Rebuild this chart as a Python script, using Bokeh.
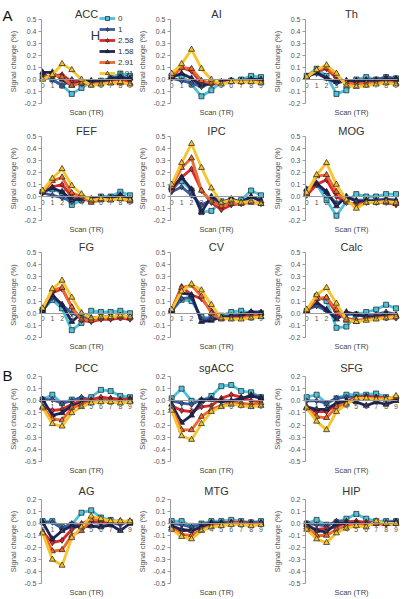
from bokeh.plotting import figure
from bokeh.layouts import column, row
from bokeh.models import FixedTicker, NumeralTickFormatter, Label, Legend, LegendItem
from bokeh.embed import file_html
from bokeh.resources import INLINE

FONT = "Liberation Sans"

scan = list(range(10))
series_labels = ["0", "1", "2.58", "1.58", "2.91", "4.91"]
series_colors = ["#4FC2DA", "#3B5CA5", "#D9292B", "#1E2659", "#F0682B", "#F7C42C"]
series_markers = ["square", "diamond", "diamond", "triangle", "triangle", "triangle"]
series_sizes = [5, 6, 6, 6, 6, 6]

yticks_A = [-0.2, -0.1, 0.0, 0.1, 0.2, 0.3, 0.4, 0.5]
yticks_B = [-0.5, -0.4, -0.3, -0.2, -0.1, 0.0, 0.1, 0.2]

# rows: H = 0, 1, 2.58, 1.58, 2.91, 4.91
ACC = [[0.02, 0.00, -0.05, -0.12, -0.07, -0.02, -0.01, 0.01, 0.05, 0.03],
       [0.05, 0.00, -0.05, 0.00, -0.03, -0.02, -0.02, 0.00, 0.02, 0.00],
       [0.02, 0.03, 0.04, -0.02, -0.02, -0.03, -0.02, -0.02, -0.01, -0.01],
       [0.06, 0.06, 0.00, -0.05, -0.02, -0.01, -0.02, 0.01, 0.02, 0.01],
       [0.01, 0.04, 0.02, -0.05, -0.03, -0.04, -0.03, -0.03, -0.03, -0.03],
       [0.00, 0.04, 0.13, 0.08, 0.00, -0.05, -0.04, -0.03, -0.02, -0.04]]
AI = [[0.03, 0.03, -0.04, -0.14, -0.09, -0.02, -0.01, 0.00, 0.03, 0.02],
      [0.01, -0.01, -0.03, -0.06, -0.03, -0.02, -0.01, -0.01, 0.00, -0.01],
      [0.02, 0.10, 0.07, -0.03, -0.04, -0.02, -0.01, -0.02, -0.01, -0.02],
      [0.02, 0.05, 0.01, -0.05, -0.03, -0.02, -0.01, -0.01, 0.00, 0.00],
      [0.03, 0.10, 0.09, -0.01, -0.03, -0.03, -0.02, -0.02, -0.02, -0.02],
      [0.05, 0.13, 0.25, 0.09, 0.00, -0.04, -0.02, -0.02, -0.02, -0.03]]
Th = [[0.03, 0.09, 0.03, -0.12, -0.09, 0.00, 0.02, 0.00, 0.02, 0.01],
      [0.03, 0.05, 0.01, -0.03, -0.01, -0.01, 0.00, 0.00, 0.02, 0.01],
      [0.02, 0.07, 0.09, 0.01, -0.02, -0.02, -0.02, -0.02, -0.01, -0.02],
      [0.02, 0.06, 0.01, -0.02, -0.01, -0.01, -0.01, -0.01, 0.00, 0.00],
      [0.02, 0.08, 0.10, 0.03, -0.03, -0.04, -0.03, -0.03, -0.02, -0.03],
      [0.02, 0.08, 0.12, 0.05, -0.05, -0.06, -0.05, -0.04, -0.03, -0.04]]
FEF = [[0.04, 0.06, 0.03, -0.07, -0.03, -0.03, 0.00, 0.00, 0.04, 0.01],
       [0.03, 0.01, -0.01, -0.04, -0.01, -0.02, -0.01, -0.01, 0.01, -0.02],
       [0.04, 0.08, 0.10, 0.00, -0.02, -0.03, -0.02, -0.02, -0.01, -0.03],
       [0.04, 0.07, 0.04, -0.03, -0.02, -0.02, -0.01, -0.01, 0.01, -0.02],
       [0.04, 0.13, 0.16, 0.03, 0.00, -0.05, -0.03, -0.03, -0.02, -0.04],
       [0.05, 0.15, 0.23, 0.09, 0.02, -0.03, -0.02, -0.03, -0.02, -0.03]]
IPC = [[0.06, 0.13, 0.05, -0.13, -0.12, -0.04, -0.03, -0.03, 0.05, 0.01],
       [0.04, 0.08, 0.01, -0.07, -0.03, -0.06, -0.05, -0.05, 0.00, -0.03],
       [0.05, 0.16, 0.23, 0.05, -0.05, -0.11, -0.07, -0.06, -0.04, -0.06],
       [0.07, 0.16, 0.06, -0.13, 0.00, -0.05, -0.02, -0.05, 0.00, -0.04],
       [0.08, 0.24, 0.32, 0.05, -0.04, -0.08, -0.06, -0.06, -0.05, -0.06],
       [0.10, 0.28, 0.44, 0.24, 0.07, -0.05, -0.03, -0.05, -0.04, -0.06]]
MOG = [[0.04, 0.10, -0.03, -0.16, -0.04, 0.02, 0.00, 0.00, 0.02, 0.02],
       [0.05, 0.10, 0.03, -0.06, -0.01, -0.03, -0.03, -0.03, -0.02, -0.03],
       [0.01, 0.10, 0.14, 0.00, -0.05, -0.07, -0.05, -0.05, -0.05, -0.07],
       [0.06, 0.11, 0.04, -0.08, 0.00, -0.04, -0.04, -0.04, -0.03, -0.04],
       [0.02, 0.17, 0.18, 0.04, -0.04, -0.08, -0.05, -0.05, -0.05, -0.06],
       [0.03, 0.18, 0.28, 0.10, -0.03, -0.10, -0.05, -0.05, -0.04, -0.05]]
FG = [[0.03, 0.11, 0.04, -0.14, -0.08, 0.02, 0.01, 0.01, 0.02, 0.00],
      [0.02, 0.13, 0.07, 0.00, -0.03, -0.05, -0.04, -0.03, -0.02, -0.03],
      [0.03, 0.17, 0.20, 0.05, -0.06, -0.07, -0.05, -0.05, -0.04, -0.05],
      [0.02, 0.15, 0.07, -0.07, 0.00, -0.04, -0.03, -0.03, -0.02, -0.03],
      [0.04, 0.19, 0.21, 0.05, -0.05, -0.06, -0.04, -0.04, -0.03, -0.04],
      [0.04, 0.20, 0.27, 0.13, 0.00, -0.04, -0.03, -0.03, -0.02, -0.03]]
CV = [[0.02, 0.11, 0.10, -0.03, -0.04, -0.02, 0.01, 0.02, 0.00, 0.00],
      [0.02, 0.12, 0.13, -0.05, -0.04, -0.03, -0.02, -0.01, 0.01, 0.01],
      [0.03, 0.22, 0.15, 0.12, 0.02, -0.04, -0.03, -0.03, -0.02, -0.02],
      [0.02, 0.17, 0.15, -0.07, -0.06, -0.03, -0.03, -0.02, 0.01, 0.00],
      [0.03, 0.21, 0.23, 0.14, 0.00, -0.05, -0.04, -0.04, -0.03, -0.03],
      [0.03, 0.18, 0.24, 0.19, 0.07, -0.04, -0.05, -0.05, -0.04, -0.03]]
Calc = [[0.02, 0.14, 0.10, -0.12, -0.11, -0.01, 0.01, 0.03, 0.07, 0.04],
        [0.03, 0.06, 0.02, -0.03, -0.01, -0.01, -0.02, -0.01, 0.01, -0.01],
        [0.02, 0.11, 0.13, 0.00, -0.04, -0.06, -0.05, -0.04, -0.04, -0.04],
        [0.02, 0.09, 0.03, -0.05, 0.01, -0.01, -0.03, -0.03, -0.01, -0.02],
        [0.02, 0.12, 0.13, 0.03, -0.06, -0.07, -0.05, -0.04, -0.03, -0.02],
        [0.03, 0.15, 0.21, 0.08, -0.05, -0.07, -0.06, -0.05, -0.04, -0.03]]
PCC = [[0.01, 0.05, -0.02, 0.01, 0.01, 0.03, 0.09, 0.08, 0.04, 0.03],
       [0.01, 0.01, -0.02, 0.00, 0.03, 0.00, 0.00, 0.02, 0.01, 0.02],
       [-0.05, -0.08, -0.07, -0.03, 0.00, 0.01, 0.03, 0.02, 0.01, 0.01],
       [0.01, -0.12, -0.10, -0.04, -0.02, -0.01, 0.00, -0.01, -0.01, 0.00],
       [-0.05, -0.15, -0.16, -0.06, -0.03, -0.01, 0.00, 0.00, -0.01, 0.00],
       [-0.06, -0.19, -0.21, -0.10, -0.05, -0.02, -0.01, -0.01, -0.02, -0.01]]
sgACC = [[0.02, 0.10, 0.00, 0.00, 0.04, 0.12, 0.13, 0.08, 0.07, 0.03],
         [0.00, -0.02, -0.03, 0.01, 0.02, 0.00, -0.01, 0.01, 0.05, 0.03],
         [-0.04, -0.08, -0.09, -0.05, -0.04, 0.02, 0.05, 0.03, 0.00, -0.01],
         [-0.03, -0.18, -0.12, 0.00, 0.01, 0.00, 0.00, 0.02, 0.04, 0.02],
         [-0.06, -0.24, -0.24, -0.13, -0.07, -0.04, -0.02, -0.02, -0.03, -0.02],
         [-0.08, -0.29, -0.32, -0.19, -0.09, -0.05, -0.03, -0.04, -0.05, -0.04]]
SFG = [[0.03, 0.05, -0.02, 0.02, 0.05, 0.05, 0.05, 0.06, 0.03, 0.02],
       [0.00, 0.00, -0.02, 0.02, 0.03, 0.03, 0.04, 0.03, 0.02, 0.02],
       [-0.06, -0.09, -0.09, -0.03, -0.01, 0.03, 0.03, 0.03, 0.02, 0.01],
       [-0.05, -0.07, -0.07, -0.02, 0.00, -0.01, -0.04, -0.01, -0.03, 0.00],
       [-0.06, -0.13, -0.14, -0.05, -0.02, 0.02, 0.02, 0.02, 0.02, 0.03],
       [-0.06, -0.17, -0.24, -0.09, -0.03, 0.02, 0.02, 0.01, 0.01, 0.04]]
AG = [[0.02, 0.02, -0.03, -0.01, 0.09, 0.11, 0.05, 0.03, 0.01, 0.01],
      [0.01, 0.01, -0.04, 0.00, -0.01, 0.01, 0.00, 0.01, -0.01, 0.02],
      [-0.07, -0.16, -0.14, -0.05, 0.00, 0.03, 0.01, 0.02, 0.01, 0.01],
      [0.01, -0.13, -0.06, -0.02, -0.03, -0.02, -0.03, -0.01, -0.06, 0.00],
      [-0.07, -0.23, -0.22, -0.10, -0.06, 0.03, 0.03, 0.02, 0.02, 0.01],
      [-0.08, -0.30, -0.35, -0.12, -0.03, 0.06, 0.04, 0.02, 0.02, 0.02]]
MTG = [[0.02, 0.02, -0.02, 0.00, 0.02, 0.02, 0.03, 0.02, 0.01, 0.02],
       [0.00, -0.01, -0.03, -0.01, 0.01, 0.01, 0.01, 0.01, 0.01, 0.01],
       [-0.03, -0.06, -0.06, -0.03, -0.01, 0.00, 0.01, 0.01, 0.00, 0.00],
       [-0.02, -0.05, -0.06, -0.03, 0.00, 0.00, 0.00, 0.00, -0.01, 0.00],
       [-0.04, -0.09, -0.10, -0.05, -0.02, -0.01, 0.00, 0.00, -0.01, 0.00],
       [-0.05, -0.11, -0.13, -0.06, -0.03, -0.02, -0.01, -0.01, -0.02, -0.01]]
HIP = [[0.00, 0.03, -0.01, 0.01, 0.04, 0.08, 0.04, 0.02, 0.02, 0.02],
       [0.00, -0.01, -0.02, 0.02, 0.02, 0.01, 0.01, 0.01, 0.01, 0.02],
       [-0.02, -0.05, -0.04, -0.03, 0.01, 0.02, 0.01, 0.00, -0.01, 0.00],
       [-0.01, -0.06, -0.07, 0.00, 0.00, 0.00, -0.01, 0.00, 0.00, 0.01],
       [-0.03, -0.10, -0.10, -0.05, -0.02, -0.01, -0.01, 0.00, 0.00, 0.00],
       [-0.05, -0.13, -0.16, -0.08, -0.04, -0.02, -0.03, 0.02, 0.00, 0.00]]

panels = [("ACC", ACC), ("AI", AI), ("Th", Th), ("FEF", FEF), ("IPC", IPC),
          ("MOG", MOG), ("FG", FG), ("CV", CV), ("Calc", Calc),
          ("PCC", PCC), ("sgACC", sgACC), ("SFG", SFG), ("AG", AG),
          ("MTG", MTG), ("HIP", HIP)]

X0, X1 = -0.12, 9.15      # data x at the y axis line / right end of the plot area
# per column: (px left of y axis, plot width px, px right of plot)
COLS = [(41, 90, 4), (35, 92, 4), (39, 92, 5)]
# per row: (px above plot, plot height px, px below plot, section)
ROWS = [(19, 84, 14, "A"), (19, 84, 14, "A"), (18, 85, 16, "A"),
        (23, 85, 16, "B"), (22, 84, 16, "B")]


def make_panel(name, data, r, c):
    L, fw, R = COLS[c]
    T, fh, B, section = ROWS[r]
    if section == "A":
        ybot, ytop, yt, tgap = -0.2, 0.5, yticks_A, 6
    else:
        ybot, ytop, yt, tgap = -0.5, 0.2, yticks_B, 9
    u = (X1 - X0) / fw
    v = (ytop - ybot) / fh
    W, H = L + fw + R, T + fh + B
    p = figure(width=W, height=H,
               x_range=(X0 - L * u, X1 + R * u),
               y_range=(ybot - B * v, ytop + T * v),
               output_backend="svg", toolbar_location=None,
               min_border_left=0, min_border_right=0,
               min_border_top=0, min_border_bottom=0)
    p.title.visible = False
    p.outline_line_color = None
    p.background_fill_color = "white"
    p.border_fill_color = "white"
    p.xgrid.visible = False
    p.ygrid.visible = False

    xa = p.xaxis[0]
    xa.fixed_location = 0
    xa.bounds = (X0, X1)
    xa.ticker = FixedTicker(ticks=scan)
    xa.major_tick_out = 0
    xa.major_tick_in = 0
    xa.minor_tick_out = 0
    xa.minor_tick_in = 0
    xa.major_label_standoff = 3
    xa.axis_line_color = "#9a9a9a"
    xa.major_label_text_font = FONT
    xa.major_label_text_font_size = "7px"
    xa.major_label_text_color = "#555555"

    ya = p.yaxis[0]
    ya.fixed_location = X0
    ya.bounds = (ybot, ytop)
    ya.ticker = FixedTicker(ticks=yt)
    ya.formatter = NumeralTickFormatter(format="0.0")
    ya.major_tick_out = 3
    ya.major_tick_in = 0
    ya.minor_tick_out = 0
    ya.minor_tick_in = 0
    ya.axis_line_color = "#9a9a9a"
    ya.major_tick_line_color = "#9a9a9a"
    ya.major_label_standoff = 2
    ya.major_label_text_font = FONT
    ya.major_label_text_font_size = "7px"
    ya.major_label_text_color = "#555555"
    ya.axis_label = "Signal change (%)"
    ya.axis_label_text_font = FONT
    ya.axis_label_text_font_size = "7.5px"
    ya.axis_label_text_font_style = "normal"
    ya.axis_label_text_color = "#555555"
    ya.axis_label_standoff = 3

    xmid = (X0 + X1) / 2
    p.add_layout(Label(x=xmid, y=ytop + tgap * v, text=name, text_font=FONT,
                       text_font_size="11px", text_color="#333333",
                       text_align="center", text_baseline="middle"))
    p.add_layout(Label(x=xmid, y=ybot - 9 * v, text="Scan (TR)", text_font=FONT,
                       text_font_size="7.5px", text_color="#444444",
                       text_align="center", text_baseline="middle"))

    rends = []
    for i, ys in enumerate(data):
        col = series_colors[i]
        rl = p.line(scan, ys, line_color=col, line_width=2.8)
        rp = p.scatter(scan, ys, marker=series_markers[i], size=series_sizes[i],
                       fill_color=col, line_color="#1a1a1a", line_width=0.7)
        rends.append((rl, rp))
    geo = dict(u=u, v=v, L=L, H=H, B=B, T=T, ytop=ytop)
    return p, rends, geo


figs = []
for k, (name, data) in enumerate(panels):
    r, c = divmod(k, 3)
    p, rends, g = make_panel(name, data, r, c)
    figs.append(p)
    u, v, ytop = g["u"], g["v"], g["ytop"]
    if k == 0:
        items = [LegendItem(label=series_labels[i], renderers=[rl, rp])
                 for i, (rl, rp) in enumerate(rends)]
        # legend bottom edge at 78 px from the top of the panel
        leg = Legend(items=items, location=(g["L"] + 58, g["H"] - 78),
                     orientation="vertical",
                     background_fill_alpha=0, border_line_color=None,
                     label_text_font=FONT, label_text_font_size="8px",
                     label_text_color="#333333", glyph_width=16, glyph_height=10,
                     label_height=10, spacing=1, padding=0, margin=0,
                     label_standoff=3)
        p.add_layout(leg)
        p.add_layout(Label(x=X0 + 54 * u, y=ytop - 16 * v, text="H",
                           text_font=FONT, text_font_size="13px",
                           text_color="#333333", text_align="center",
                           text_baseline="middle"))
        p.add_layout(Label(x=X0 - (g["L"] - 2) * u, y=ytop + 13 * v, text="A",
                           text_font=FONT, text_font_size="15px",
                           text_color="#111111", text_align="left",
                           text_baseline="top"))
    if k == 9:
        p.add_layout(Label(x=X0 - (g["L"] - 2) * u, y=ytop + 10 * v, text="B",
                           text_font=FONT, text_font_size="15px",
                           text_color="#111111", text_align="left",
                           text_baseline="top"))

layout = column(*[row(*figs[i:i + 3]) for i in range(0, 15, 3)])

open("out.html", "w").write(file_html(layout, INLINE))
